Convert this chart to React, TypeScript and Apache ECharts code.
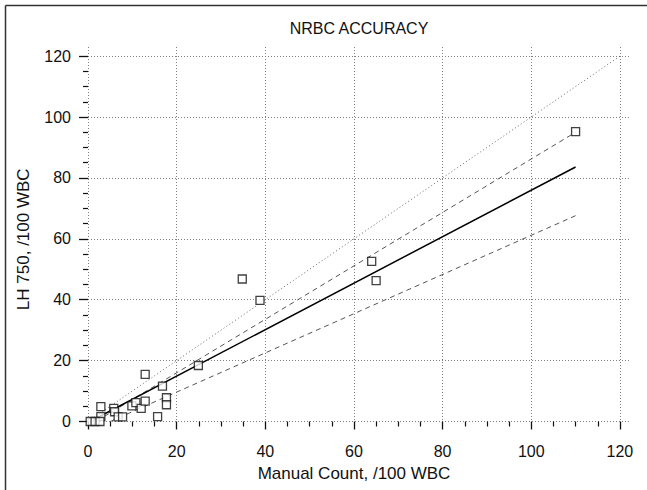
import React, { useEffect, useRef } from "react";
import * as echarts from "echarts";

const titleText = "NRBC ACCURACY";
const xName = "Manual Count, /100 WBC";
const yName = "LH 750, /100 WBC";

const majorTicks = [0, 20, 40, 60, 80, 100, 120];
const minorTicks = [5, 10, 15, 25, 30, 35, 45, 50, 55, 65, 70, 75, 85, 90, 95, 105, 110, 115];

// measured points
const manualCount = [110, 64, 65, 34.8, 38.8, 24.9, 12.9, 16.8, 17.7, 17.7, 15.7, 2.9, 2.9, 0.5, 1.6, 2.7, 5.8, 6.0, 6.8, 7.8, 9.9, 10.8, 12.0, 12.9];
const lh750 = [95.2, 52.6, 46.3, 46.8, 39.8, 18.4, 15.5, 11.6, 7.8, 5.5, 1.6, 4.9, 1.6, 0, 0, 0, 4.3, 3.2, 1.5, 1.5, 5.1, 6.2, 4.3, 6.7];

// fitted line and bands
const regX = [1, 110];
const regY = [0.4, 83.6];
const upperX = [2, 110];
const upperY = [0.2, 95];
const lowerX = [5, 110];
const lowerY = [0, 67.6];
const identX = [0, 120];
const identY = [0, 120];

const pairs = (xs: number[], ys: number[]) => xs.map((x, i) => [x, ys[i]]);

const FONT = "Liberation Sans, Arial, sans-serif";

export default function App() {
  const ref = useRef<HTMLDivElement>(null);
  useEffect(() => {
    document.body.style.margin = "0";
    const chart = echarts.init(ref.current!, null, { renderer: "svg" });
    const gridStyle = { color: "#808080", type: [1, 2] as any, width: 1 };
    const axisCommon = (extra: any) => ({
      type: "value",
      min: 0,
      axisLine: { show: false },
      ...extra,
    });
    chart.setOption({
      animation: false,
      backgroundColor: "#fff",
      textStyle: { fontFamily: FONT },
      title: {
        text: titleText,
        left: 354,
        top: 15,
        textAlign: "center",
        textStyle: { fontFamily: FONT, fontSize: 16, fontWeight: "normal", color: "#111" },
      },
      graphic: [
        {
          type: "line",
          shape: { x1: 5.5, y1: 5.5, x2: 647, y2: 5.5 },
          style: { stroke: "#333", lineWidth: 1.5 },
          silent: true,
        },
        {
          type: "line",
          shape: { x1: 5.5, y1: 5.5, x2: 5.5, y2: 490 },
          style: { stroke: "#333", lineWidth: 1.5 },
          silent: true,
        },
      ],
      grid: { left: 88, right: 16, top: 47, bottom: 68.5, containLabel: false },
      xAxis: [
        axisCommon({
          max: 122.5,
          position: "bottom",
          offset: 3,
          name: xName,
          nameLocation: "middle",
          nameGap: 40,
          nameTextStyle: { fontFamily: FONT, fontSize: 17, color: "#111", padding: [0, 11, 0, 0] },
          axisTick: { show: true, length: 8, customValues: majorTicks, lineStyle: { color: "#111", width: 1.3 } },
          axisLabel: { customValues: majorTicks, margin: 19, fontFamily: FONT, fontSize: 16, color: "#111" },
          splitLine: { show: true, lineStyle: gridStyle },
        }),
        axisCommon({
          max: 122.5,
          position: "bottom",
          offset: 4,
          axisTick: { show: true, length: 5, customValues: minorTicks, lineStyle: { color: "#111", width: 1.2 } },
          axisLabel: { show: false },
          splitLine: { show: false },
        }),
      ],
      yAxis: [
        axisCommon({
          max: 123,
          position: "left",
          offset: 3,
          name: yName,
          nameLocation: "middle",
          nameGap: 53,
          nameTextStyle: { fontFamily: FONT, fontSize: 17, color: "#111", padding: [0, 10, 0, 0] },
          axisTick: { show: true, length: 9, customValues: majorTicks, lineStyle: { color: "#111", width: 1.3 } },
          axisLabel: { customValues: majorTicks, margin: 14, fontFamily: FONT, fontSize: 16, color: "#111" },
          splitLine: { show: true, lineStyle: gridStyle },
        }),
        axisCommon({
          max: 123,
          position: "left",
          offset: 6,
          axisTick: { show: true, length: 5, customValues: minorTicks, lineStyle: { color: "#111", width: 1.2 } },
          axisLabel: { show: false },
          splitLine: { show: false },
        }),
      ],
      series: [
        {
          type: "line",
          data: pairs(identX, identY),
          symbol: "none",
          lineStyle: { color: "#666", width: 1, type: [1, 2.5] },
          silent: true,
        },
        {
          type: "line",
          data: pairs(upperX, upperY),
          symbol: "none",
          lineStyle: { color: "#555", width: 1, type: [5, 4] },
          silent: true,
        },
        {
          type: "line",
          data: pairs(lowerX, lowerY),
          symbol: "none",
          lineStyle: { color: "#555", width: 1, type: [5, 4] },
          silent: true,
        },
        {
          type: "line",
          data: pairs(regX, regY),
          symbol: "none",
          lineStyle: { color: "#000", width: 1.5 },
          silent: true,
        },
        {
          type: "scatter",
          data: pairs(manualCount, lh750),
          symbol: "rect",
          symbolSize: 8,
          itemStyle: { color: "#fff", borderColor: "#111", borderWidth: 1.3 },
          z: 5,
        },
      ],
    });
    return () => chart.dispose();
  }, []);
  return <div ref={ref} style={{ width: 647, height: 490 }} />;
}
